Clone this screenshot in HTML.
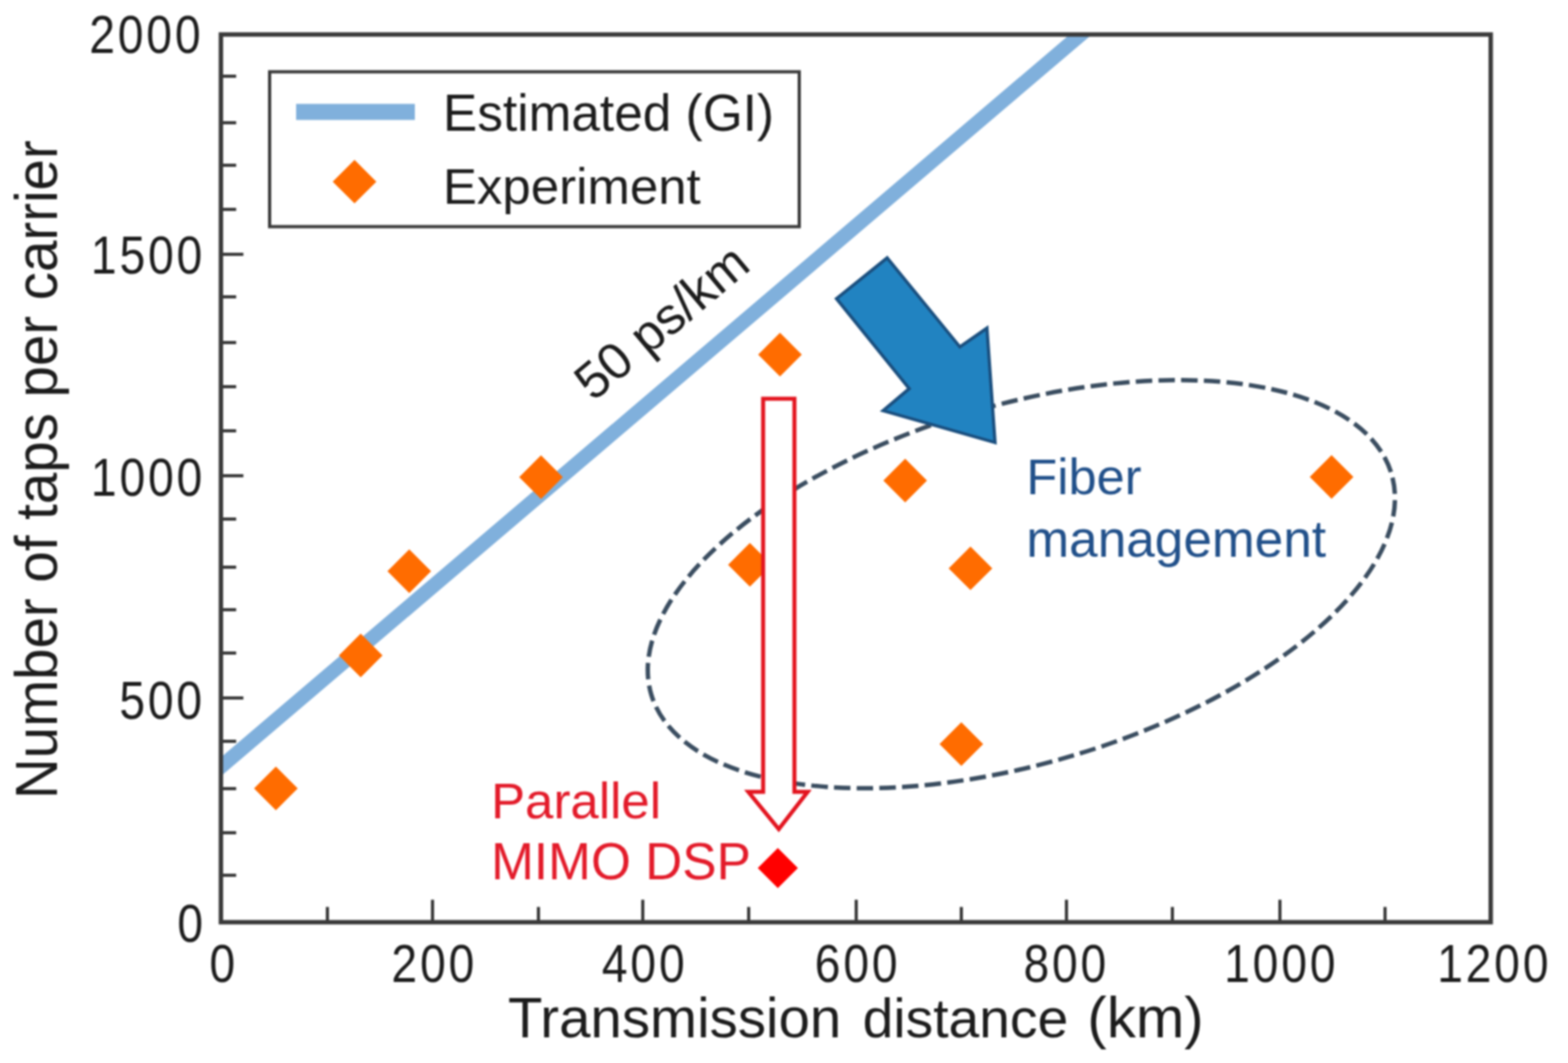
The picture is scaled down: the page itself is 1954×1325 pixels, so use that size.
<!DOCTYPE html>
<html><head><meta charset="utf-8"><style>
html,body{margin:0;padding:0;background:#fff;}
svg{display:block;}
#wrap{filter:blur(1px);width:1954px;height:1325px;}
text{font-family:"Liberation Sans",Arial,sans-serif;}
</style></head><body>
<div id="wrap"><svg width="1954" height="1325" viewBox="0 0 1954 1325">
<rect width="1954" height="1325" fill="#fff"/>
<defs><clipPath id="pa"><rect x="275.3" y="43" width="1582.4" height="1106.5"/></clipPath></defs>
<!-- estimated line -->
<g clip-path="url(#pa)"><line x1="255.3" y1="972.8" x2="1366.8" y2="26.0" stroke="#80b0dc" stroke-width="18"/></g>
<!-- ellipse -->
<ellipse cx="1272.8" cy="728.1" rx="481.3" ry="223.2" transform="rotate(-16.63 1272.8 728.1)" fill="none" stroke="#3a4d60" stroke-width="5.5" stroke-dasharray="20.5 7.749" stroke-dashoffset="-5.19"/>
<!-- blue arrow -->
<path d="M1105.6 321.4L1196.2 432.4L1229.9 409L1240 551.6L1100.5 511.9L1133.1 484.4L1042.4 372.3Z" fill="#2183c1" stroke="#1a4f7f" stroke-width="4" stroke-linejoin="miter"/>
<!-- diamonds -->
<path d="M343.8 955.6L371 982.8L343.8 1010L316.6 982.8Z" fill="#ff6c00"/>
<path d="M449.5 789.8L476.7 817L449.5 844.2L422.3 817Z" fill="#ff6c00"/>
<path d="M510 684.8L537.2 712L510 739.2L482.8 712Z" fill="#ff6c00"/>
<path d="M674.2 567.6L701.4 594.8L674.2 622L647 594.8Z" fill="#ff6c00"/>
<path d="M972 414.8L999.2 442L972 469.2L944.8 442Z" fill="#ff6c00"/>
<path d="M934.5 676.8L961.7 704L934.5 731.2L907.3 704Z" fill="#ff6c00"/>
<path d="M1128 571.8L1155.2 599L1128 626.2L1100.8 599Z" fill="#ff6c00"/>
<path d="M1209.4 681.2L1236.6 708.4L1209.4 735.6L1182.2 708.4Z" fill="#ff6c00"/>
<path d="M1198 900.3L1225.2 927.5L1198 954.7L1170.8 927.5Z" fill="#ff6c00"/>
<path d="M1659.4 567.3L1686.6 594.5L1659.4 621.7L1632.2 594.5Z" fill="#ff6c00"/>
<!-- red hollow arrow -->
<path d="M951 497L990 497L990 987L1006.5 987L970.5 1033.5L932.5 987L951 987Z" fill="#fff" stroke="#e3141f" stroke-width="5" stroke-linejoin="miter"/>
<path d="M969.3 1057L994.3 1082L969.3 1107L944.3 1082Z" fill="#ff0000"/>
<!-- axes -->
<g stroke="#3a3a3a" stroke-width="5.5" fill="none">
<rect x="275.3" y="43" width="1582.4" height="1106.5"/>
</g>
<g stroke="#3a3a3a" stroke-width="4">
<line x1="275.3" y1="95" x2="294.3" y2="95"/>
<line x1="275.3" y1="153" x2="294.3" y2="153"/>
<line x1="275.3" y1="206" x2="294.3" y2="206"/>
<line x1="275.3" y1="261" x2="294.3" y2="261"/>
<line x1="275.3" y1="317" x2="303.3" y2="317"/>
<line x1="275.3" y1="370" x2="294.3" y2="370"/>
<line x1="275.3" y1="427" x2="294.3" y2="427"/>
<line x1="275.3" y1="482" x2="294.3" y2="482"/>
<line x1="275.3" y1="537" x2="294.3" y2="537"/>
<line x1="275.3" y1="593" x2="303.3" y2="593"/>
<line x1="275.3" y1="647" x2="294.3" y2="647"/>
<line x1="275.3" y1="707" x2="294.3" y2="707"/>
<line x1="275.3" y1="760" x2="294.3" y2="760"/>
<line x1="275.3" y1="814" x2="294.3" y2="814"/>
<line x1="275.3" y1="870" x2="303.3" y2="870"/>
<line x1="275.3" y1="924" x2="294.3" y2="924"/>
<line x1="275.3" y1="983" x2="294.3" y2="983"/>
<line x1="275.3" y1="1038" x2="294.3" y2="1038"/>
<line x1="275.3" y1="1091" x2="294.3" y2="1091"/>
<line x1="408" y1="1149.5" x2="408" y2="1130.5"/>
<line x1="539" y1="1149.5" x2="539" y2="1121.5"/>
<line x1="671" y1="1149.5" x2="671" y2="1130.5"/>
<line x1="801" y1="1149.5" x2="801" y2="1121.5"/>
<line x1="933" y1="1149.5" x2="933" y2="1130.5"/>
<line x1="1067" y1="1149.5" x2="1067" y2="1121.5"/>
<line x1="1198" y1="1149.5" x2="1198" y2="1130.5"/>
<line x1="1329" y1="1149.5" x2="1329" y2="1121.5"/>
<line x1="1461" y1="1149.5" x2="1461" y2="1130.5"/>
<line x1="1595" y1="1149.5" x2="1595" y2="1121.5"/>
<line x1="1726" y1="1149.5" x2="1726" y2="1130.5"/>
</g>
<!-- tick labels -->
<g font-size="67" letter-spacing="4.12" fill="#1c1c1c">
<text transform="translate(111.2 65.5) scale(0.86 1)">2000</text>
<text transform="translate(113.3 340.9) scale(0.86 1)">1500</text>
<text transform="translate(113.3 617.5) scale(0.86 1)">1000</text>
<text transform="translate(148.7 896.1) scale(0.86 1)">500</text>
<text transform="translate(221.0 1174.0) scale(0.86 1)">0</text>
<text transform="translate(261.0 1223.7) scale(0.86 1)">0</text>
<text transform="translate(487.8 1223.7) scale(0.86 1)">200</text>
<text transform="translate(750.0 1223.7) scale(0.86 1)">400</text>
<text transform="translate(1015.3 1223.7) scale(0.86 1)">600</text>
<text transform="translate(1275.4 1223.7) scale(0.86 1)">800</text>
<text transform="translate(1525.5 1223.7) scale(0.86 1)">1000</text>
<text transform="translate(1790.9 1223.7) scale(0.86 1)">1200</text>
</g>
<!-- axis titles -->
<text y="1293.3" fill="#1c1c1c"><tspan x="633" font-size="70.3">Transmission </tspan><tspan x="1075" font-size="68.8">distance </tspan><tspan x="1355" font-size="72.5">(km)</tspan></text>
<text transform="translate(71.3 996) rotate(-90) scale(0.951 1)" font-size="74" fill="#1c1c1c">Number of taps per carrier</text>
<!-- legend -->
<rect x="336" y="89.5" width="660" height="193" fill="#fff" stroke="#3a3a3a" stroke-width="4"/>
<line x1="369" y1="139.5" x2="517" y2="139.5" stroke="#80b0dc" stroke-width="20"/>
<path d="M441.8 199.2L469 226.4L441.8 253.6L414.6 226.4Z" fill="#ff6c00"/>
<text x="552" y="163.3" font-size="64" fill="#1c1c1c">Estimated (GI)</text>
<text x="552" y="254.3" font-size="63.5" fill="#1c1c1c">Experiment</text>
<!-- annotations -->
<text transform="translate(739 501.5) rotate(-40)" font-size="64" fill="#1c1c1c">50 ps/km</text>
<text x="1279" y="616.3" font-size="63" fill="#21508a">Fiber</text>
<text x="1279" y="694.4" font-size="64" fill="#21508a">management</text>
<text x="612" y="1020" font-size="63.5" fill="#e31b2a">Parallel</text>
<text x="612" y="1096.1" font-size="64" fill="#e31b2a">MIMO DSP</text>
</svg></div>
</body></html>
